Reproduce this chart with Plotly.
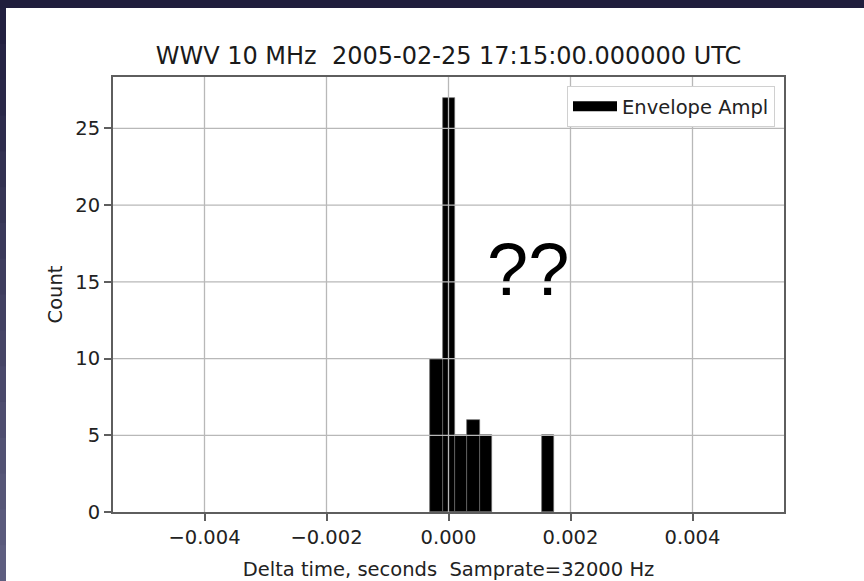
import plotly.graph_objects as go

# Histogram of envelope-amplitude timing offsets (seconds)
bin_start = -0.00030
bin_width = 0.000203
counts = [10, 27, 5, 6, 5, 0, 0, 0, 0, 5]

x_ticks = [-0.004, -0.002, 0.000, 0.002, 0.004]
y_ticks = [0, 5, 10, 15, 20, 25]
x_range = [-0.0055, 0.0055]
y_range = [0, 28.35]

title_text = "WWV 10 MHz  2005-02-25 17:15:00.000000 UTC"
x_label = "Delta time, seconds  Samprate=32000 Hz"
y_label = "Count"
series_name = "Envelope Ampl"
note_text = "??"

# only non-empty bins get a bar
bar_x = [bin_start + bin_width * (i + 0.5) for i, c in enumerate(counts) if c > 0]
bar_y = [c for c in counts if c > 0]

W, H = 864, 581
ML, MR, MT, MB = 113, 80, 77, 69
PW, PH = W - ML - MR, H - MT - MB

def px_x(p):
    return (p - ML) / PW

def px_y(p):
    return (H - MB - p) / PH

FONT = "DejaVu Sans"
GRID = "#b8b8b8"
SPINE = "#5e5e5e"
TXT = "#222"

fig = go.Figure()
fig.add_trace(go.Bar(
    x=bar_x, y=bar_y, width=bin_width,
    marker=dict(color="black", line=dict(color="#6a6a6a", width=0.7)),
    showlegend=False,
))
# legend entry drawn as a thick line so the key reads as a wide patch
fig.add_trace(go.Scatter(
    x=[None], y=[None], mode="lines", name=series_name,
    line=dict(color="black", width=13),
))

shapes = []
# white figure face on a dark slide background
shapes.append(dict(type="rect", xref="paper", yref="paper", layer="below",
                   x0=px_x(6), x1=px_x(W + 2), y0=px_y(8), y1=px_y(H + 2),
                   fillcolor="white", line=dict(width=0)))
# soft vertical gradient on the left edge strip
top_rgb = (0x22, 0x20, 0x40)
bot_rgb = (0x5e, 0x5e, 0x80)
nseg = 16
for i in range(nseg):
    t = i / (nseg - 1)
    c = tuple(int(round(a + (b - a) * t)) for a, b in zip(top_rgb, bot_rgb))
    y0 = 8 + (H - 8) * i / nseg
    y1 = 8 + (H - 8) * (i + 1) / nseg
    shapes.append(dict(type="rect", xref="paper", yref="paper", layer="below",
                       x0=px_x(-2), x1=px_x(6), y0=px_y(y1 + 1), y1=px_y(y0),
                       fillcolor="rgb(%d,%d,%d)" % c, line=dict(width=0)))
# grid drawn over the bars
for xv in x_ticks:
    shapes.append(dict(type="line", xref="x", yref="paper", layer="above",
                       x0=xv, x1=xv, y0=0, y1=1, line=dict(color=GRID, width=1.3)))
for yv in y_ticks[1:]:
    shapes.append(dict(type="line", xref="paper", yref="y", layer="above",
                       x0=0, x1=1, y0=yv, y1=yv, line=dict(color=GRID, width=1.3)))

fig.update_layout(
    width=W, height=H,
    margin=dict(l=ML, r=MR, t=MT, b=MB, autoexpand=False),
    paper_bgcolor="#201e3d",
    plot_bgcolor="white",
    bargap=0,
    shapes=shapes,
    title=dict(text=title_text, x=0.5, xref="paper", xanchor="center",
               y=1 - 56 / H, yanchor="middle",
               font=dict(family=FONT, size=24, color="#1a1a1a")),
    font=dict(family=FONT, size=19.5, color=TXT),
    legend=dict(x=px_x(775), y=px_y(86), xanchor="right", yanchor="top",
                bgcolor="white", bordercolor="#d0d0d0", borderwidth=1,
                itemwidth=44,
                font=dict(family=FONT, size=19.5, color=TXT)),
    annotations=[dict(text=note_text, x=0.00131, y=15.8, xref="x", yref="y",
                      showarrow=False, xanchor="center", yanchor="middle",
                      font=dict(family="Liberation Sans", size=74, color="black"))],
)
fig.update_xaxes(
    range=x_range, tickvals=x_ticks, tickformat=".3f",
    showgrid=False, zeroline=False, automargin=False,
    showline=True, mirror=True, linecolor=SPINE, linewidth=2,
    ticks="outside", ticklen=7, tickwidth=1.5, tickcolor=SPINE,
    tickfont=dict(family=FONT, size=19.5, color=TXT),
    title=dict(text=x_label, standoff=14, font=dict(family=FONT, size=19.5, color=TXT)),
)
fig.update_yaxes(
    range=y_range, tickvals=y_ticks,
    showgrid=False, zeroline=False, automargin=False,
    showline=True, mirror=True, linecolor=SPINE, linewidth=2,
    ticks="outside", ticklen=7, tickwidth=1.5, tickcolor=SPINE,
    tickfont=dict(family=FONT, size=19.5, color=TXT),
    title=dict(text=y_label, standoff=7, font=dict(family=FONT, size=19.5, color=TXT)),
)

fig.write_html("out.html")
